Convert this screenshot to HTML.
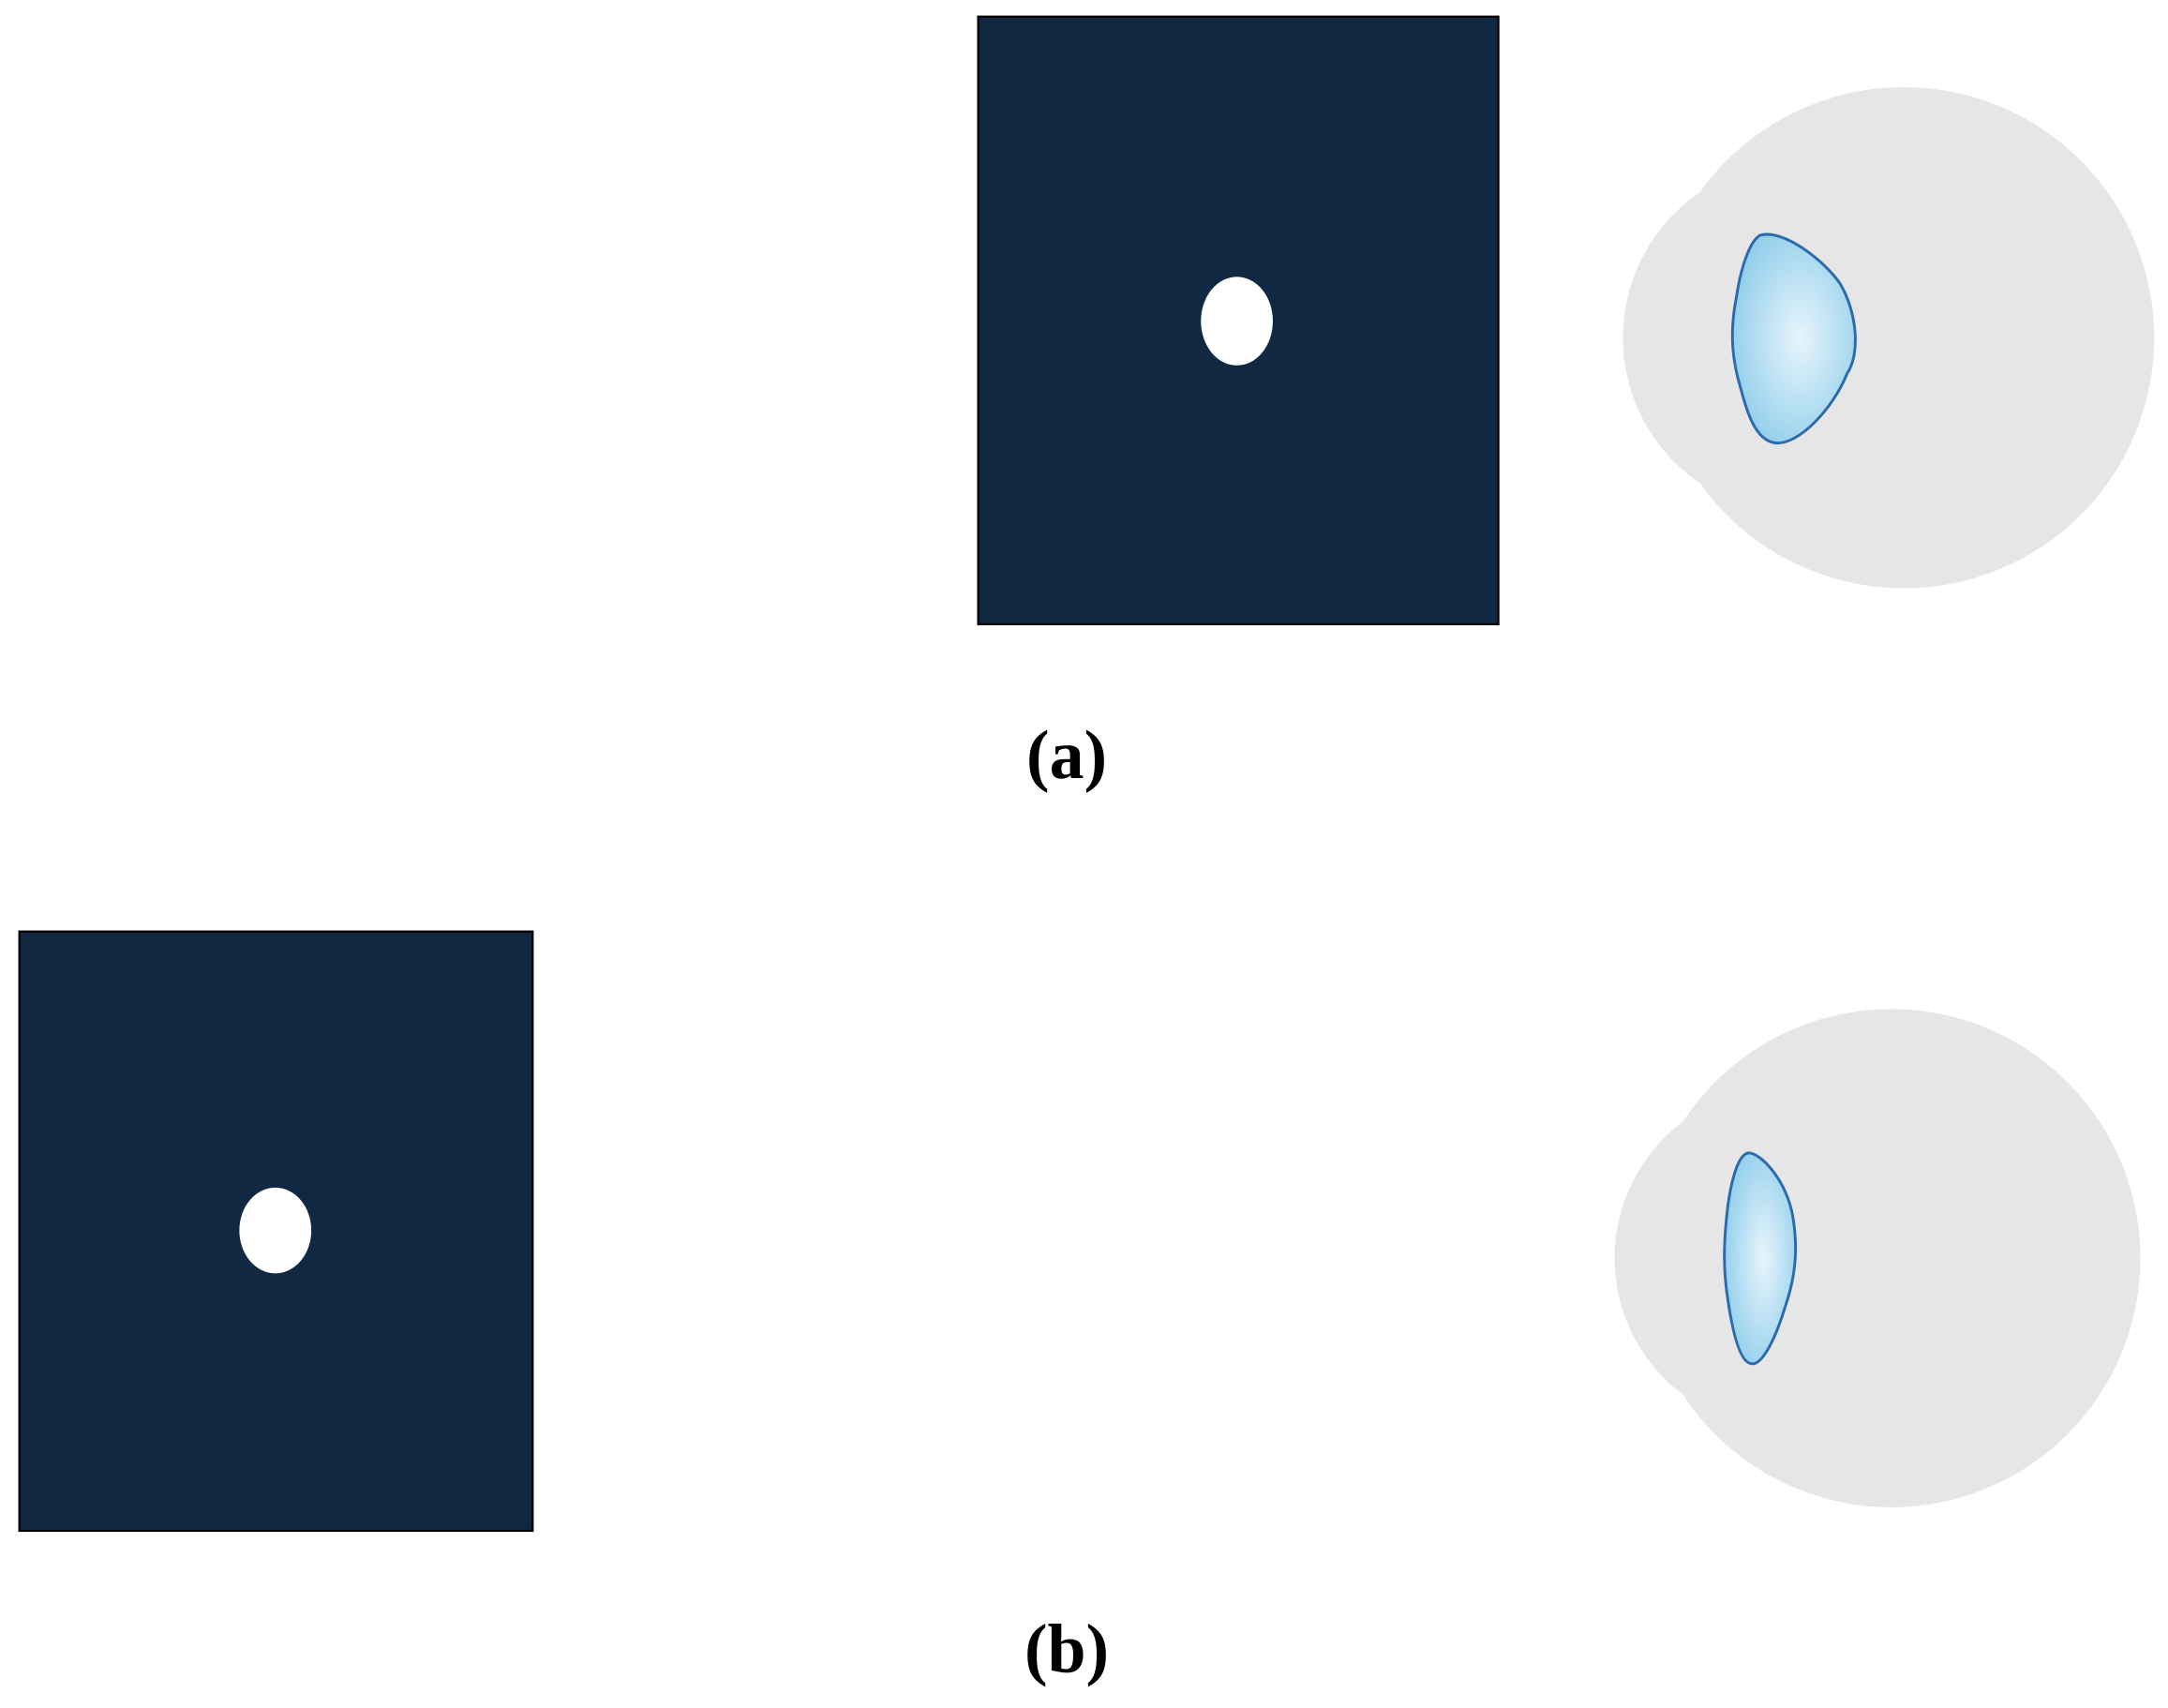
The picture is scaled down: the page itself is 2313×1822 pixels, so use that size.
<!DOCTYPE html>
<html><head><style>html,body{margin:0;padding:0;background:#fff}svg{display:block}</style></head>
<body>
<svg width="2313" height="1822" viewBox="0 0 1567 1234" preserveAspectRatio="none" xmlns="http://www.w3.org/2000/svg">
<defs>
<radialGradient id="g" cx="0.55" cy="0.5" r="0.6">
<stop offset="0" stop-color="#e8f5fc"/><stop offset="1" stop-color="#8fcdeb"/>
</radialGradient>
</defs>
<rect x="0" y="0" width="1567" height="1234" fill="#fff"/>
<rect x="707" y="12" width="376" height="439" fill="#102842" stroke="#000" stroke-width="1.5"/>
<ellipse cx="894" cy="232" rx="26" ry="32" fill="#fff"/>
<circle cx="1376" cy="244" r="181" fill="#e6e6e6"/>
<circle cx="1300" cy="244" r="127" fill="#e6e6e6"/>
<path d="M1272,170 C1290,165 1320,190 1330,205 C1342,225 1345,255 1335,270 C1325,295 1300,322 1283,320 C1268,318 1262,295 1258,280 C1252,260 1250,240 1255,215 C1258,195 1264,175 1272,170 Z" fill="url(#g)" stroke="#2a6aad" stroke-width="2"/>
<text x="771" y="562" text-anchor="middle" font-family="Liberation Serif, serif" font-weight="bold" font-size="50">(a)</text>
<rect x="14" y="673" width="371" height="433" fill="#102842" stroke="#000" stroke-width="1.5"/>
<ellipse cx="199" cy="889" rx="26" ry="31" fill="#fff"/>
<circle cx="1367" cy="909" r="180" fill="#e6e6e6"/>
<circle cx="1290" cy="909" r="123" fill="#e6e6e6"/>
<path d="M1265,833 C1275,835 1292,855 1296,880 C1300,905 1297,925 1290,945 C1283,968 1273,988 1265,985 C1257,983 1252,960 1249,940 C1245,915 1246,895 1249,870 C1252,850 1257,832 1265,833 Z" fill="url(#g)" stroke="#2a6aad" stroke-width="2"/>
<text x="771" y="1208" text-anchor="middle" font-family="Liberation Serif, serif" font-weight="bold" font-size="50">(b)</text>
</svg>
</body></html>
